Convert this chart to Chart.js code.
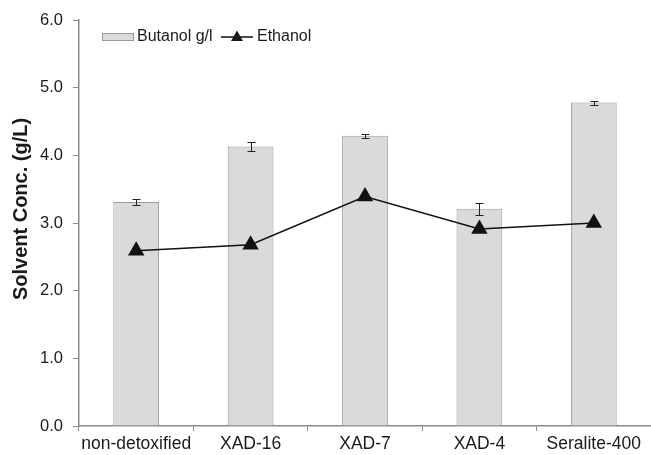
<!DOCTYPE html>
<html>
<head>
<meta charset="utf-8">
<script src="https://cdn.jsdelivr.net/npm/chart.js@4.4.1/dist/chart.umd.min.js"></script>
<style>
  html, body { margin: 0; padding: 0; background: #fff; }
  #wrap { width: 651px; height: 455px; }
</style>
</head>
<body>
<div id="wrap"><canvas id="solventChart" width="651" height="455"></canvas></div>
<script>
const categories = ['non-detoxified', 'XAD-16', 'XAD-7', 'XAD-4', 'Seralite-400'];
const butanol = [3.31, 4.13, 4.29, 3.21, 4.78];
const butanolErr = [0.05, 0.07, 0.03, 0.09, 0.03];
const ethanol = [2.59, 2.68, 3.39, 2.91, 3.0];
const yTicks = [0, 1, 2, 3, 4, 5, 6];

const FONT = "'Liberation Sans', Arial, sans-serif";
const AXIS_GREY = '#8a8a8a';

// error bars on the butanol bars, drawn from the y scale
const errorBars = {
    id: 'errorBars',
    afterDatasetDraw(chart, args) {
        if (args.index !== 0) return;
        const ctx = chart.ctx;
        const y = chart.scales.y;
        ctx.save();
        ctx.strokeStyle = '#222';
        ctx.lineWidth = 1;
        args.meta.data.forEach((el, i) => {
            const x = Math.round(el.x) + 0.5;
            const top = Math.round(y.getPixelForValue(butanol[i] + butanolErr[i])) + 0.5;
            const bot = Math.round(y.getPixelForValue(butanol[i] - butanolErr[i])) + 0.5;
            ctx.beginPath();
            ctx.moveTo(x, top); ctx.lineTo(x, bot);
            ctx.moveTo(x - 4, top); ctx.lineTo(x + 4, top);
            ctx.moveTo(x - 4, bot); ctx.lineTo(x + 4, bot);
            ctx.stroke();
        });
        ctx.restore();
    }
};

// legend inside the plot + rotated y title
const extras = {
    id: 'extras',
    afterDraw(chart) {
        const ctx = chart.ctx;
        ctx.save();
        ctx.fillStyle = '#d9dadc';
        ctx.strokeStyle = '#9a9a9a';
        ctx.lineWidth = 1;
        ctx.fillRect(102.5, 33.5, 31, 7);
        ctx.strokeRect(102.5, 33.5, 31, 7);
        ctx.fillStyle = '#1a1a1a';
        ctx.font = '16px ' + FONT;
        ctx.textBaseline = 'middle';
        ctx.textAlign = 'left';
        ctx.fillText('Butanol g/l', 137, 37);
        ctx.strokeStyle = '#111';
        ctx.lineWidth = 1.5;
        ctx.beginPath();
        ctx.moveTo(221, 37); ctx.lineTo(253, 37);
        ctx.stroke();
        ctx.beginPath();
        ctx.moveTo(237, 30.5); ctx.lineTo(243, 41); ctx.lineTo(231, 41);
        ctx.closePath();
        ctx.fill();
        ctx.fillText('Ethanol', 257, 37);
        // y title
        ctx.translate(21, 209);
        ctx.rotate(-Math.PI / 2);
        ctx.textAlign = 'center';
        ctx.font = 'bold 20px ' + FONT;
        ctx.fillText('Solvent Conc. (g/L)', 0, 0);
        ctx.restore();
    }
};

new Chart(document.getElementById('solventChart'), {
    data: {
        labels: categories,
        datasets: [{
            type: 'bar',
            label: 'Butanol g/l',
            data: butanol,
            backgroundColor: '#d9dadc',
            borderColor: '#9a9a9a',
            borderWidth: 1,
            barPercentage: 0.4,
            categoryPercentage: 1,
            order: 2
        }, {
            type: 'line',
            label: 'Ethanol',
            data: ethanol,
            borderColor: '#111',
            borderWidth: 1.5,
            backgroundColor: '#111',
            pointStyle: 'triangle',
            pointRadius: 9.5,
            pointBackgroundColor: '#111',
            pointBorderWidth: 0,
            tension: 0,
            order: 1
        }]
    },
    options: {
        responsive: false,
        animation: false,
        layout: {
            autoPadding: false,
            padding: { top: 20, right: 0, bottom: 0, left: 0 }
        },
        plugins: {
            legend: { display: false },
            tooltip: { enabled: false }
        },
        scales: {
            x: {
                grid: {
                    offset: true,
                    drawOnChartArea: false,
                    color: AXIS_GREY,
                    tickLength: 5
                },
                border: { color: AXIS_GREY, width: 1.5 },
                ticks: {
                    color: '#1a1a1a',
                    font: { family: FONT, size: 17.5 },
                    padding: 3,
                    maxRotation: 0,
                    autoSkip: false
                },
                afterFit(scale) {
                    scale.height = 29;
                    scale.paddingLeft = 0;
                    scale.paddingRight = 0;
                }
            },
            y: {
                min: 0,
                max: 6,
                afterBuildTicks(scale) { scale.ticks = yTicks.map(v => ({ value: v })); },
                grid: {
                    drawOnChartArea: false,
                    color: AXIS_GREY,
                    tickLength: 6
                },
                border: { color: AXIS_GREY, width: 1.5 },
                ticks: {
                    color: '#1a1a1a',
                    font: { family: FONT, size: 16.5 },
                    padding: 10,
                    callback: v => Number(v).toFixed(1)
                },
                afterFit(scale) { scale.width = 79; }
            }
        }
    },
    plugins: [errorBars, extras]
});
</script>
</body>
</html>
